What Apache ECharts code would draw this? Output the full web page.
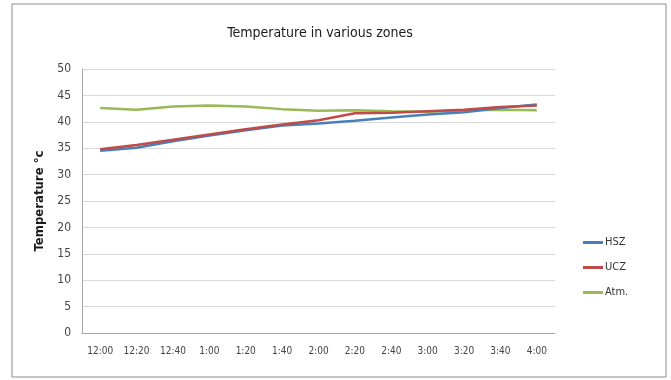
<!DOCTYPE html>
<html>
<head>
<meta charset="utf-8">
<script src="https://cdn.jsdelivr.net/npm/echarts@6/dist/echarts.min.js"></script>
<style>
  html, body { margin: 0; padding: 0; background: #fff; }
  #chart { width: 671px; height: 380px; }
</style>
</head>
<body>
<div id="chart"></div>
<script>
// ===== 数据 =====
var times = ['12:00', '12:20', '12:40', '1:00', '1:20', '1:40', '2:00', '2:20', '2:40', '3:00', '3:20', '3:40', '4:00'];
var hsz = [34.5, 35.1, 36.3, 37.4, 38.4, 39.3, 39.7, 40.2, 40.8, 41.4, 41.8, 42.6, 43.3];
var ucz = [34.8, 35.6, 36.6, 37.6, 38.6, 39.5, 40.3, 41.6, 41.7, 42.0, 42.3, 42.8, 43.1];
var atm = [42.6, 42.3, 42.9, 43.1, 42.9, 42.4, 42.1, 42.2, 42.0, 41.9, 42.2, 42.3, 42.2];

var font = '"Liberation Sans Narrow", "DejaVu Sans Condensed", "Open Sans", sans-serif';
var chart = echarts.init(document.getElementById('chart'));

function lineSeries(name, data, color, z) {
  return {
    name: name,
    type: 'line',
    data: data,
    symbol: 'none',
    z: z,
    lineStyle: { color: color, width: 2.5 },
    itemStyle: { color: color }
  };
}

chart.setOption({
  backgroundColor: '#fff',
  animation: false,
  textStyle: { fontFamily: font },
  title: {
    text: 'Temperature in various zones',
    left: 315,
    top: 21,
    textAlign: 'center',
    textStyle: { fontSize: 14, fontWeight: 'normal', color: '#1a1a1a', fontFamily: font }
  },
  legend: {
    orient: 'vertical',
    left: 578,
    top: 232,
    icon: 'rect',
    itemWidth: 20,
    itemHeight: 3,
    itemGap: 14,
    textStyle: { fontSize: 11, color: '#333', fontFamily: font, padding: [0, 0, 0, -3] },
    data: ['HSZ', 'UCZ', 'Atm.']
  },
  grid: { left: 82, right: 116, top: 69, bottom: 47 },
  xAxis: {
    type: 'category',
    data: times,
    boundaryGap: true,
    axisLine: { lineStyle: { color: '#a6a6a6' } },
    axisTick: { show: false },
    axisLabel: { color: '#444', fontSize: 10, margin: 13, interval: 0, fontFamily: font }
  },
  yAxis: {
    type: 'value',
    min: 0,
    max: 50,
    interval: 5,
    name: 'Temperature °c',
    nameLocation: 'middle',
    nameGap: 36,
    nameRotate: 90,
    nameTextStyle: { fontSize: 13, fontWeight: 'bold', color: '#1a1a1a', fontFamily: font },
    axisLine: { show: true, lineStyle: { color: '#a6a6a6' } },
    axisTick: { show: false },
    axisLabel: { color: '#444', fontSize: 12, margin: 11, fontFamily: font },
    splitLine: { lineStyle: { color: '#d9d9d9' } }
  },
  graphic: [{
    type: 'rect',
    shape: { x: 12, y: 4, width: 654, height: 373 },
    style: { fill: 'none', stroke: '#8c8c8c', lineWidth: 1 },
    silent: true
  }],
  series: [
    lineSeries('HSZ', hsz, '#4a7ebb', 3),
    lineSeries('UCZ', ucz, '#be4b48', 4),
    lineSeries('Atm.', atm, '#98b954', 2)
  ]
});
</script>
</body>
</html>
